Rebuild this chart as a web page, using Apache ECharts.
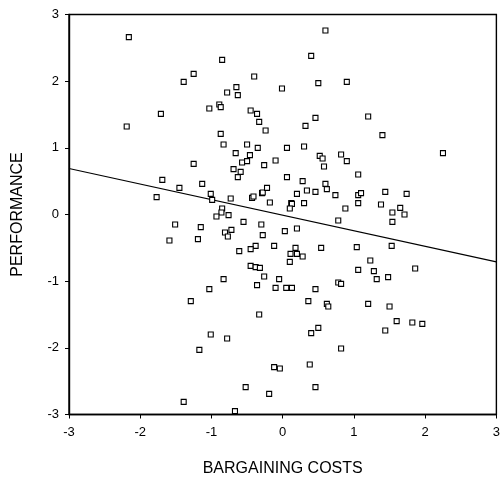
<!DOCTYPE html>
<html><head><meta charset="utf-8">
<script src="https://cdn.jsdelivr.net/npm/echarts@6/dist/echarts.min.js"></script>
<style>html,body{margin:0;padding:0;background:#fff}#c{width:503px;height:488px}</style>
</head><body><div id="c"></div>
<script>
// Bargaining costs (x) and performance (y) for each observation
const xValues = [
  -2.16,-0.85,-1.25,-1.39,-0.40,-0.65,-0.78,-0.63,-0.89,-0.87,-1.03,-1.71,-0.45,-0.36,-0.33,-0.24,-2.19,-0.87,-0.83,-0.50,-0.35,
  0.60,0.40,0.50,0.90,-0.01,0.46,0.32,1.20,1.40,0.06,0.30,
  -0.66,-0.46,-1.25,-0.57,-0.50,-0.26,-0.10,-0.69,-0.59,-0.63,-1.69,-1.45,-1.13,-1.77,-1.01,-0.99,-0.73,-0.43,-0.41,-0.29,-0.28,-0.22,-0.18,
  -0.85,-0.86,-0.93,-0.76,-0.55,-0.30,-1.51,-1.15,-0.81,-0.72,-0.77,-0.28,-1.59,-1.19,-0.12,-0.38,-0.45,-0.61,-0.45,-0.38,-0.32,-0.26,-0.83,
  0.52,0.56,0.58,0.82,0.90,2.25,1.06,0.06,0.28,0.60,0.62,0.34,0.46,0.20,0.74,1.06,1.10,1.44,1.74,0.12,0.13,0.10,0.30,0.88,1.06,1.38,1.65,1.54,1.71,1.54,0.78,
  0.03,0.20,0.18,0.11,0.20,0.28,0.10,0.54,1.04,1.53,1.23,1.06,1.28,1.86,-0.05,1.32,1.48,
  -0.10,0.05,0.13,0.46,0.78,0.82,0.36,0.62,0.64,1.20,1.50,1.60,1.82,1.96,1.44,0.50,0.40,0.82,-0.12,-0.04,0.38,0.46,-0.19,
  -1.03,-0.36,-1.29,-0.33,-1.01,-0.78,-1.17,-0.52,-1.39,-0.67
];
const yValues = [
  2.66,2.32,2.11,1.99,2.07,1.91,1.83,1.79,1.65,1.61,1.59,1.51,1.56,1.51,1.39,1.26,1.32,1.21,1.05,1.05,1.00,
  2.76,2.38,1.97,1.99,1.89,1.45,1.33,1.47,1.19,1.00,1.02,
  0.92,0.89,0.76,0.78,0.80,0.74,0.81,0.68,0.64,0.56,0.52,0.40,0.46,0.26,0.31,0.22,0.24,0.25,0.27,0.32,0.33,0.40,0.18,
  0.09,0.03,-0.03,-0.01,-0.11,-0.15,-0.15,-0.19,-0.27,-0.23,-0.33,-0.31,-0.39,-0.37,-0.47,-0.47,-0.52,-0.55,-0.77,-0.79,-0.80,-0.93,-0.97,
  0.88,0.84,0.72,0.90,0.80,0.92,0.60,0.56,0.50,0.46,0.38,0.36,0.34,0.31,0.29,0.29,0.32,0.34,0.31,0.17,0.16,0.09,0.17,0.09,0.17,0.15,0.10,0.03,0.00,-0.11,-0.09,
  -0.25,-0.21,-0.50,-0.59,-0.59,-0.63,-0.71,-0.50,-0.49,-0.47,-0.69,-0.83,-0.85,-0.81,-0.97,-0.97,-0.94,
  -1.10,-1.10,-1.10,-1.12,-1.02,-1.04,-1.30,-1.34,-1.38,-1.34,-1.38,-1.60,-1.62,-1.64,-1.74,-1.70,-1.78,-2.01,-2.29,-2.31,-2.25,-2.59,-2.69,
  -1.12,-1.06,-1.30,-1.50,-1.80,-1.86,-2.03,-2.59,-2.81,-2.95
];
// Fitted regression line end points
const fitX = [-3, 3];
const fitY = [0.69, -0.71];
// Axis ranges / tick labels
const xTicks = [-3, -2, -1, 0, 1, 2, 3];
const yTicks = [-3, -2, -1, 0, 1, 2, 3];
const xTitle = 'BARGAINING COSTS';
const yTitle = 'PERFORMANCE';

const points = xValues.map((x, i) => [x, yValues[i]]);
const fitLine = fitX.map((x, i) => [x, fitY[i]]);
const font = '"Liberation Sans", Arial, sans-serif';

const chart = echarts.init(document.getElementById('c'), null, {renderer: 'canvas'});
chart.setOption({
  animation: false,
  backgroundColor: '#fff',
  grid: {left: 69, right: 5, top: 14.5, bottom: 73.5, show: true, borderColor: '#000', borderWidth: 1.4, backgroundColor: 'transparent'},
  xAxis: {
    type: 'value', min: xTicks[0], max: xTicks[xTicks.length - 1], interval: 1,
    name: xTitle, nameLocation: 'middle', nameGap: 46,
    nameTextStyle: {fontFamily: font, fontSize: 16, color: '#000'},
    axisLine: {show: true, onZero: false, lineStyle: {color: '#000', width: 1.4}},
    axisTick: {show: true, inside: false, length: 4, lineStyle: {color: '#000'}},
    axisLabel: {margin: 11, fontFamily: font, fontSize: 13, color: '#000', showMinLabel: true, showMaxLabel: true},
    splitLine: {show: false}
  },
  yAxis: {
    type: 'value', min: yTicks[0], max: yTicks[yTicks.length - 1], interval: 1,
    name: yTitle, nameLocation: 'middle', nameGap: 43, nameRotate: 90,
    nameTextStyle: {fontFamily: font, fontSize: 16, color: '#000'},
    axisLine: {show: true, onZero: false, lineStyle: {color: '#000', width: 1.4}},
    axisTick: {show: true, inside: false, length: 4, lineStyle: {color: '#000'}},
    axisLabel: {margin: 10, fontFamily: font, fontSize: 13, color: '#000', showMinLabel: true, showMaxLabel: true},
    splitLine: {show: false}
  },
  series: [
    {
      type: 'line', data: fitLine, showSymbol: false, symbol: 'none', silent: true, z: 1,
      lineStyle: {color: '#000', width: 1.2}
    },
    {
      type: 'scatter', data: points, symbol: 'rect', symbolSize: 5, z: 2, silent: true,
      itemStyle: {color: '#fff', borderColor: '#000', borderWidth: 1.1, opacity: 1}
    }
  ]
});
</script>
</body></html>
